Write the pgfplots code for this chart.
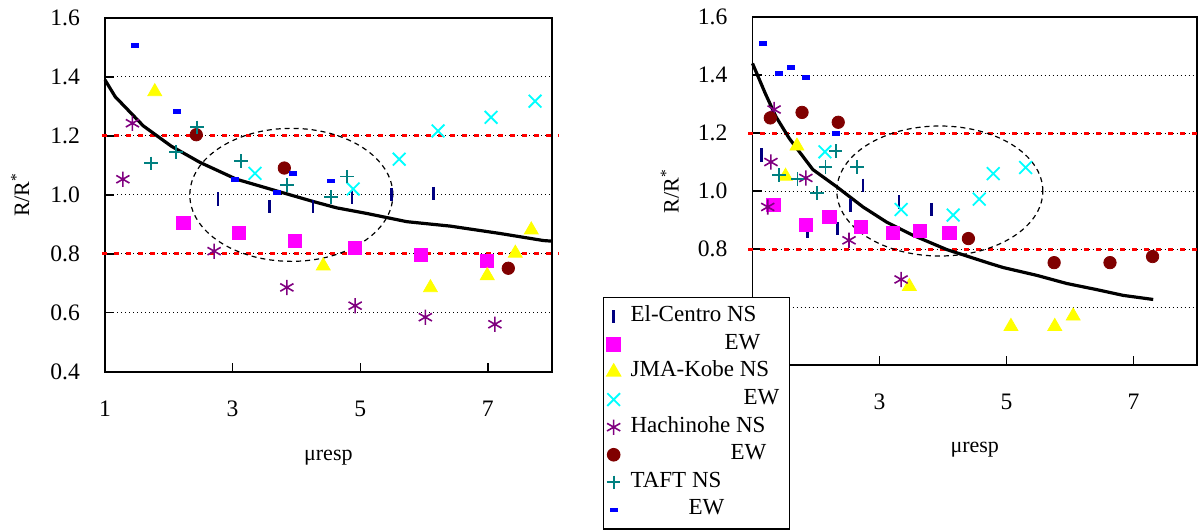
\documentclass[border=0pt]{standalone}
\usepackage{fontspec}
\setmainfont{Liberation Serif}
\usepackage{pgfplots}
\pgfplotsset{compat=1.18}
\definecolor{cNavy}{RGB}{0,0,128}
\definecolor{cMag}{RGB}{255,0,255}
\definecolor{cYel}{RGB}{255,255,0}
\definecolor{cCyan}{RGB}{0,255,255}
\definecolor{cPurp}{RGB}{128,0,128}
\definecolor{cDRed}{RGB}{128,0,0}
\definecolor{cTeal}{RGB}{0,128,128}
\definecolor{cBlue}{RGB}{0,0,255}
\pgfplotsset{
  base/.style={
    scale only axis,
    xmin=1, xmax=8, ymin=0.4, ymax=1.6,
    xtick={1,3,5,7}, ytick={0.4,0.6,0.8,1.0,1.2,1.4,1.6},
    yticklabel style={/pgf/number format/fixed, /pgf/number format/fixed zerofill, /pgf/number format/precision=1, xshift=-9pt},
    /pgf/number format/assume math mode=true,
    tick align=inside, tick pos=left, major tick length=4.5pt,
    ymajorgrids, grid style={black, line width=0.5pt, dash pattern=on 0.5pt off 1.5pt},
    axis line style={line width=0.9pt},
    tick style={black, line width=0.7pt},
    ticklabel style={font=\fontsize{11.8}{14}\selectfont},
    xticklabel style={yshift=-11pt},
    label style={font=\fontsize{11}{13}\selectfont},
    xlabel={μresp}, ylabel={R/R\textsuperscript{*}},
    clip=false,
  },
  sEN/.style={only marks, mark=|, mark size=3.3pt, color=cNavy, line width=1.3pt},
  sEE/.style={only marks, mark=square*, mark size=3.3pt, color=cMag},
  sJN/.style={only marks, mark=triangle*, mark size=4pt, color=cYel},
  sJE/.style={only marks, mark=x, mark size=4.5pt, color=cCyan, line width=0.9pt},
  sHN/.style={only marks, mark=asterisk, mark size=3.8pt, color=cPurp, line width=0.8pt},
  sHE/.style={only marks, mark=*, mark size=3.1pt, color=cDRed},
  sTN/.style={only marks, mark=+, mark size=3.4pt, color=cTeal, line width=0.9pt},
  sTE/.style={only marks, mark=-, mark size=2pt, color=cBlue, line width=2.4pt},
  redl/.style={red, line width=1.5pt, dash pattern=on 2.6pt off 3.4pt, forget plot},
  curve/.style={black, line width=1.6pt, forget plot},
}
\begin{document}
\begin{tikzpicture}
\useasboundingbox (0,0) rectangle (599pt,-265.5pt);
% ---------------- left axis ----------------
\begin{axis}[base,
  at={(52.5pt,-185.85pt)}, anchor=south west,
  width=223.35pt, height=176.85pt,
  xlabel style={at={(axis description cs:0.5,-0.243)}, anchor=center},
  ylabel style={at={(axis description cs:-0.19,0.5)}, anchor=center},
]
\addplot[redl] coordinates {(0.95,1.2) (8.1,1.2)};
\addplot[redl] coordinates {(0.95,0.8) (8.1,0.8)};
\addplot[sEN] coordinates {(2.77,0.986) (3.58,0.960) (4.26,0.960) (4.87,0.990) (5.49,1.000) (6.15,1.005)};
\addplot[sEE] coordinates {(2.23,0.906) (3.10,0.870) (3.98,0.843) (4.92,0.821) (5.95,0.796) (6.99,0.776)};
\addplot[sJN] coordinates {(1.78,1.350) (4.42,0.759) (6.10,0.685) (6.99,0.726) (7.43,0.802) (7.68,0.881)};
\addplot[sJE] coordinates {(3.35,1.073) (4.89,1.020) (5.61,1.121) (6.22,1.217) (7.05,1.263) (7.74,1.318)};
\addplot[sHN] coordinates {(1.43,1.243) (1.28,1.053) (2.71,0.809) (3.85,0.686) (4.92,0.624) (6.02,0.585) (7.11,0.561)};
\addplot[sHE] coordinates {(2.43,1.204) (3.81,1.091) (7.32,0.751)};
\addplot[sTN] coordinates {(2.44,1.229) (1.72,1.107) (2.11,1.146) (3.13,1.115) (3.85,1.034) (4.54,0.992) (4.79,1.062)};
\addplot[sTE] coordinates {(1.47,1.508) (2.13,1.284) (3.04,1.053) (3.69,1.007) (3.95,1.073) (4.54,1.047)};
\addplot[curve] coordinates {(1,1.39) (1.16,1.333) (1.60,1.234) (2.04,1.165) (2.49,1.11) (3.06,1.053) (3.79,1.007) (4.27,0.977) (4.63,0.956) (5.10,0.937) (5.73,0.909) (6.41,0.894) (7.19,0.869) (7.87,0.845) (8.0,0.843)};
\draw[black, line width=0.6pt, dash pattern=on 2.5pt off 2pt] (axis cs:3.92,1.0) ellipse [x radius=50.75pt, y radius=33.25pt];
\end{axis}
% ---------------- right axis ----------------
\begin{axis}[base,
  at={(376.25pt,-182.5pt)}, anchor=south west,
  width=222.25pt, height=174pt,
  yticklabels={,,0.8,1.0,1.2,1.4,1.6},
  xticklabels={,3,5,7},
  xlabel style={at={(axis description cs:0.5,-0.244)}, anchor=center},
  ylabel style={at={(axis description cs:-0.186,0.5)}, anchor=center},
]
\addplot[redl] coordinates {(0.93,1.2) (8.0,1.2)};
\addplot[redl] coordinates {(0.93,0.8) (8.0,0.8)};
\addplot[sEN] coordinates {(1.14,1.124) (2.74,1.020) (2.54,0.951) (2.34,0.871) (3.31,0.962) (3.82,0.936) (1.87,0.862)};
\addplot[sEE] coordinates {(1.33,0.951) (1.84,0.882) (2.21,0.911) (2.71,0.876) (3.21,0.855) (3.63,0.862) (4.10,0.855)};
\addplot[sJN] coordinates {(1.70,1.155) (1.52,1.051) (3.47,0.671) (5.07,0.533) (5.76,0.533) (6.05,0.569)};
\addplot[sJE] coordinates {(2.14,1.135) (3.34,0.936) (4.16,0.917) (4.57,0.972) (4.79,1.060) (5.30,1.081)};
\addplot[sHN] coordinates {(1.34,1.281) (1.29,1.100) (1.84,1.045) (1.24,0.945) (2.52,0.830) (3.34,0.695)};
\addplot[sHE] coordinates {(1.28,1.252) (1.78,1.271) (2.35,1.237) (4.40,0.836) (5.75,0.753) (6.63,0.753) (7.30,0.774)};
\addplot[sTN] coordinates {(2.31,1.137) (1.42,1.055) (1.71,1.041) (2.15,1.083) (2.02,0.994) (2.65,1.083)};
\addplot[sTE] coordinates {(1.17,1.509) (1.42,1.406) (1.61,1.426) (1.84,1.392) (2.31,1.199)};
\addplot[curve] coordinates {(1.0,1.44) (1.20,1.337) (1.37,1.256) (1.58,1.181) (1.95,1.074) (2.33,1.014) (2.74,0.945) (3.11,0.893) (3.53,0.847) (4.06,0.798) (4.74,0.750) (4.95,0.736) (5.48,0.709) (5.95,0.681) (6.42,0.660) (6.84,0.640) (7.31,0.626)};
\draw[black, line width=0.6pt, dash pattern=on 2.5pt off 2pt] (axis cs:3.95,1.0) ellipse [x radius=51.5pt, y radius=32.5pt];
\end{axis}
% ---------------- legend on top ----------------
\begin{axis}[
  scale only axis, hide axis,
  at={(376.25pt,-182.5pt)}, anchor=south west,
  width=222.25pt, height=174pt,
  xmin=1, xmax=8, ymin=0.4, ymax=1.6,
  legend cell align=left,
  legend style={at={(axis description cs:-0.336,0.195)}, anchor=north west,
    draw=black, line width=0.6pt, fill=white,
    font=\fontsize{11.5}{13}\selectfont,
    inner xsep=1.5pt, inner ysep=4pt, row sep=2.8pt, column sep=5pt,
    nodes={inner sep=0pt, text height=8pt, text depth=3pt}},
  legend image code/.code={\draw[only marks, mark repeat=2, mark phase=2, #1] plot coordinates {(0pt,0pt) (6pt,0pt) (12pt,0pt)};},
]
\addlegendimage{sEN}
\addlegendentry{\makebox[78pt][l]{El-Centro NS}}
\addlegendimage{sEE}
\addlegendentry{\makebox[78pt][l]{\hspace*{47pt}EW}}
\addlegendimage{sJN}
\addlegendentry{\makebox[78pt][l]{JMA-Kobe NS}}
\addlegendimage{sJE}
\addlegendentry{\makebox[78pt][l]{\hspace*{56.5pt}EW}}
\addlegendimage{sHN}
\addlegendentry{\makebox[78pt][l]{Hachinohe NS}}
\addlegendimage{sHE}
\addlegendentry{\makebox[78pt][l]{\hspace*{50pt}EW}}
\addlegendimage{sTN}
\addlegendentry{\makebox[78pt][l]{TAFT NS}}
\addlegendimage{sTE}
\addlegendentry{\makebox[78pt][l]{\hspace*{29pt}EW}}
\end{axis}
\end{tikzpicture}
\end{document}
